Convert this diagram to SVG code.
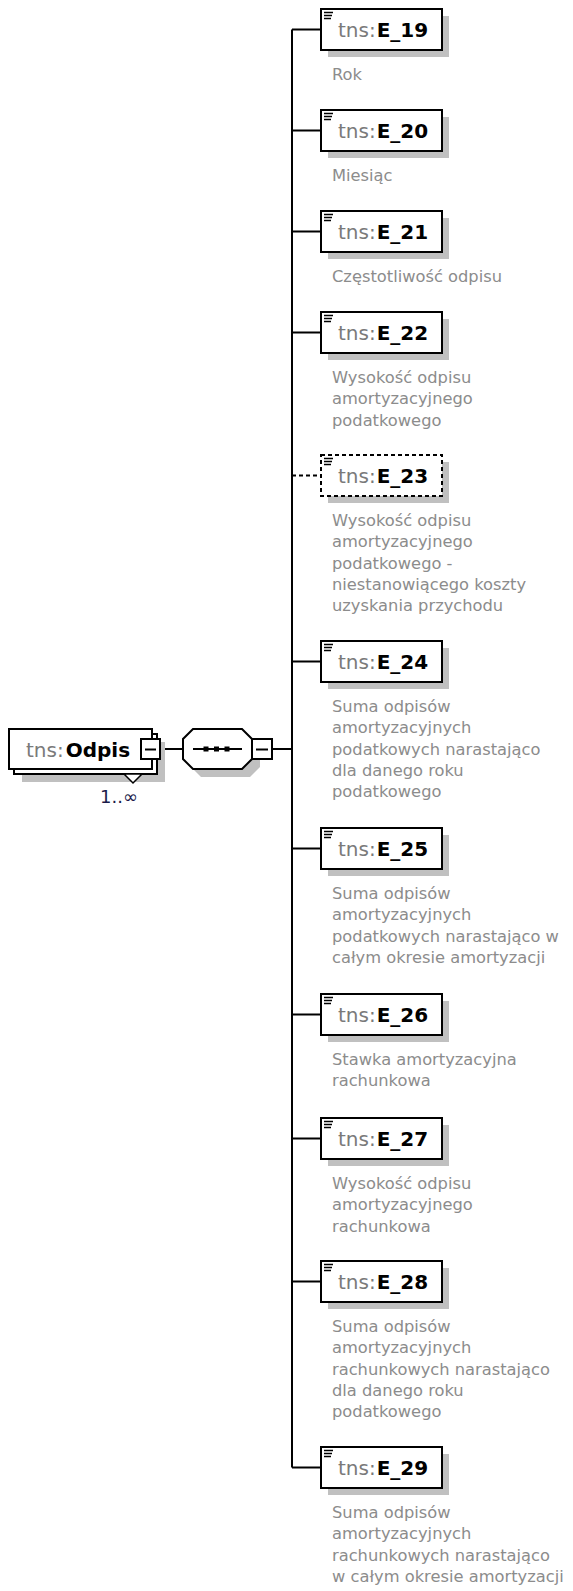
<svg xmlns="http://www.w3.org/2000/svg" width="573" height="1591" viewBox="0 0 573 1591">
<style>
.bg{fill:#fff}
.box{fill:#fff;stroke:#000;stroke-width:2}
.dbox{fill:#fff;stroke:#000;stroke-width:2;stroke-dasharray:4 3}
.shadow{fill:#c0c0c0}
.conn{stroke:#000;stroke-width:2;fill:none}
.dash{stroke-dasharray:4 3}
.icon{stroke:#000;stroke-width:1.5;fill:none}
.t{font-family:"DejaVu Sans",Verdana,sans-serif;font-size:20px}
.ns{fill:#7a7a7a}
.nm{fill:#000;font-weight:bold}
.desc{font-family:"DejaVu Sans",Verdana,sans-serif;font-size:16.3px;fill:#8c8c8c}
.card{font-family:"DejaVu Sans",Verdana,sans-serif;font-size:18px;fill:#1a1a4a}
</style>
<rect class="bg" x="0" y="0" width="573" height="1591"/>
<g id="connectors">
<path class="conn" d="M161 749H183M272 749H292M292 29.5V1467.5"/>
<path class="conn" d="M292 29.5H321M292 130.5H321M292 231.5H321M292 332.5H321M292 661.5H321M292 848.5H321M292 1014.5H321M292 1138.5H321M292 1281.5H321M292 1467.5H321"/>
<path class="conn dash" d="M292 475.5H321"/>
</g>
<g id="Odpis">
<rect class="shadow" x="22" y="742" width="143" height="40"/>
<rect class="box" x="14" y="734" width="143" height="40"/>
<rect class="box" x="9" y="729" width="143" height="40"/>
<polygon points="124,774 133,783 142,774" fill="#fff" stroke="#000" stroke-width="1.5"/>
<rect class="box" x="141" y="739" width="19" height="20"/>
<path class="conn" d="M145 749.5H156"/>
<text class="t" x="26" y="757"><tspan class="ns">tns:</tspan><tspan class="nm" dx="2">Odpis</tspan></text>
<text class="card" x="100" y="803">1..∞</text>
</g>
<g id="sequence">
<polygon class="shadow" points="201,737 250,737 260,747 260,767 250,777 201,777 191,767 191,747"/>
<polygon class="box" points="193,729 242,729 252,739 252,759 242,769 193,769 183,759 183,739"/>
<path class="conn" d="M193 749H242"/>
<rect x="203.5" y="746.5" width="5" height="5" fill="#000"/>
<rect x="214" y="746.5" width="5" height="5" fill="#000"/>
<rect x="224.5" y="746.5" width="5" height="5" fill="#000"/>
<rect class="box" x="252" y="739" width="20" height="20"/>
<path class="conn" d="M256 749.5H268"/>
</g>
<g id="E_19" transform="translate(0,9)">
<rect class="shadow" x="328" y="7" width="121" height="41"/>
<rect class="box" x="321" y="0" width="121" height="41"/>
<path class="icon" d="M324 3.5h9M324 6.5h8M324 9.5h7"/>
<text class="t" x="338" y="27.5"><tspan class="ns">tns:</tspan><tspan class="nm" dx="1">E_19</tspan></text>
<text class="desc" x="332" y="71">Rok</text>
</g>
<g id="E_20" transform="translate(0,110)">
<rect class="shadow" x="328" y="7" width="121" height="41"/>
<rect class="box" x="321" y="0" width="121" height="41"/>
<path class="icon" d="M324 3.5h9M324 6.5h8M324 9.5h7"/>
<text class="t" x="338" y="27.5"><tspan class="ns">tns:</tspan><tspan class="nm" dx="1">E_20</tspan></text>
<text class="desc" x="332" y="71">Miesiąc</text>
</g>
<g id="E_21" transform="translate(0,211)">
<rect class="shadow" x="328" y="7" width="121" height="41"/>
<rect class="box" x="321" y="0" width="121" height="41"/>
<path class="icon" d="M324 3.5h9M324 6.5h8M324 9.5h7"/>
<text class="t" x="338" y="27.5"><tspan class="ns">tns:</tspan><tspan class="nm" dx="1">E_21</tspan></text>
<text class="desc" x="332" y="71">Częstotliwość odpisu</text>
</g>
<g id="E_22" transform="translate(0,312)">
<rect class="shadow" x="328" y="7" width="121" height="41"/>
<rect class="box" x="321" y="0" width="121" height="41"/>
<path class="icon" d="M324 3.5h9M324 6.5h8M324 9.5h7"/>
<text class="t" x="338" y="27.5"><tspan class="ns">tns:</tspan><tspan class="nm" dx="1">E_22</tspan></text>
<text class="desc" x="332" y="71"><tspan x="332">Wysokość odpisu</tspan><tspan x="332" dy="21.3">amortyzacyjnego</tspan><tspan x="332" dy="21.3">podatkowego</tspan></text>
</g>
<g id="E_23" transform="translate(0,455)">
<rect class="shadow" x="328" y="7" width="121" height="41"/>
<rect class="dbox" x="321" y="0" width="121" height="41"/>
<path class="icon" d="M324 3.5h9M324 6.5h8M324 9.5h7"/>
<text class="t" x="338" y="27.5"><tspan class="ns">tns:</tspan><tspan class="nm" dx="1">E_23</tspan></text>
<text class="desc" x="332" y="71"><tspan x="332">Wysokość odpisu</tspan><tspan x="332" dy="21.3">amortyzacyjnego</tspan><tspan x="332" dy="21.3">podatkowego -</tspan><tspan x="332" dy="21.3">niestanowiącego koszty</tspan><tspan x="332" dy="21.3">uzyskania przychodu</tspan></text>
</g>
<g id="E_24" transform="translate(0,641)">
<rect class="shadow" x="328" y="7" width="121" height="41"/>
<rect class="box" x="321" y="0" width="121" height="41"/>
<path class="icon" d="M324 3.5h9M324 6.5h8M324 9.5h7"/>
<text class="t" x="338" y="27.5"><tspan class="ns">tns:</tspan><tspan class="nm" dx="1">E_24</tspan></text>
<text class="desc" x="332" y="71"><tspan x="332">Suma odpisów</tspan><tspan x="332" dy="21.3">amortyzacyjnych</tspan><tspan x="332" dy="21.3">podatkowych narastająco</tspan><tspan x="332" dy="21.3">dla danego roku</tspan><tspan x="332" dy="21.3">podatkowego</tspan></text>
</g>
<g id="E_25" transform="translate(0,828)">
<rect class="shadow" x="328" y="7" width="121" height="41"/>
<rect class="box" x="321" y="0" width="121" height="41"/>
<path class="icon" d="M324 3.5h9M324 6.5h8M324 9.5h7"/>
<text class="t" x="338" y="27.5"><tspan class="ns">tns:</tspan><tspan class="nm" dx="1">E_25</tspan></text>
<text class="desc" x="332" y="71"><tspan x="332">Suma odpisów</tspan><tspan x="332" dy="21.3">amortyzacyjnych</tspan><tspan x="332" dy="21.3">podatkowych narastająco w</tspan><tspan x="332" dy="21.3">całym okresie amortyzacji</tspan></text>
</g>
<g id="E_26" transform="translate(0,994)">
<rect class="shadow" x="328" y="7" width="121" height="41"/>
<rect class="box" x="321" y="0" width="121" height="41"/>
<path class="icon" d="M324 3.5h9M324 6.5h8M324 9.5h7"/>
<text class="t" x="338" y="27.5"><tspan class="ns">tns:</tspan><tspan class="nm" dx="1">E_26</tspan></text>
<text class="desc" x="332" y="71"><tspan x="332">Stawka amortyzacyjna</tspan><tspan x="332" dy="21.3">rachunkowa</tspan></text>
</g>
<g id="E_27" transform="translate(0,1118)">
<rect class="shadow" x="328" y="7" width="121" height="41"/>
<rect class="box" x="321" y="0" width="121" height="41"/>
<path class="icon" d="M324 3.5h9M324 6.5h8M324 9.5h7"/>
<text class="t" x="338" y="27.5"><tspan class="ns">tns:</tspan><tspan class="nm" dx="1">E_27</tspan></text>
<text class="desc" x="332" y="71"><tspan x="332">Wysokość odpisu</tspan><tspan x="332" dy="21.3">amortyzacyjnego</tspan><tspan x="332" dy="21.3">rachunkowa</tspan></text>
</g>
<g id="E_28" transform="translate(0,1261)">
<rect class="shadow" x="328" y="7" width="121" height="41"/>
<rect class="box" x="321" y="0" width="121" height="41"/>
<path class="icon" d="M324 3.5h9M324 6.5h8M324 9.5h7"/>
<text class="t" x="338" y="27.5"><tspan class="ns">tns:</tspan><tspan class="nm" dx="1">E_28</tspan></text>
<text class="desc" x="332" y="71"><tspan x="332">Suma odpisów</tspan><tspan x="332" dy="21.3">amortyzacyjnych</tspan><tspan x="332" dy="21.3">rachunkowych narastająco</tspan><tspan x="332" dy="21.3">dla danego roku</tspan><tspan x="332" dy="21.3">podatkowego</tspan></text>
</g>
<g id="E_29" transform="translate(0,1447)">
<rect class="shadow" x="328" y="7" width="121" height="41"/>
<rect class="box" x="321" y="0" width="121" height="41"/>
<path class="icon" d="M324 3.5h9M324 6.5h8M324 9.5h7"/>
<text class="t" x="338" y="27.5"><tspan class="ns">tns:</tspan><tspan class="nm" dx="1">E_29</tspan></text>
<text class="desc" x="332" y="71"><tspan x="332">Suma odpisów</tspan><tspan x="332" dy="21.3">amortyzacyjnych</tspan><tspan x="332" dy="21.3">rachunkowych narastająco</tspan><tspan x="332" dy="21.3">w całym okresie amortyzacji</tspan></text>
</g>
</svg>
